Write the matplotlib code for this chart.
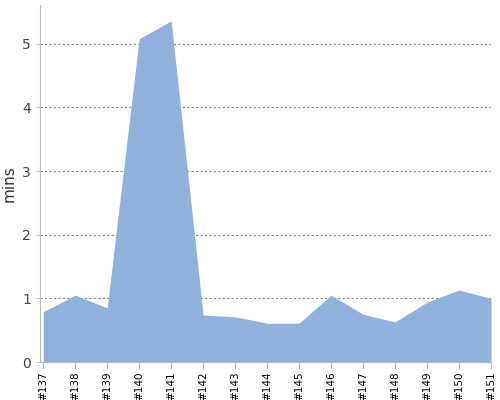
import matplotlib
matplotlib.use("Agg")
import matplotlib.pyplot as plt

builds = ["#137", "#138", "#139", "#140", "#141", "#142", "#143", "#144",
          "#145", "#146", "#147", "#148", "#149", "#150", "#151"]
mins = [0.79, 1.05, 0.85, 5.08, 5.36, 0.74, 0.71, 0.61,
        0.61, 1.05, 0.75, 0.63, 0.94, 1.13, 1.00]

fig = plt.figure(figsize=(5, 4), dpi=100)
ax = fig.add_axes([0.08, 0.095, 0.902, 0.8925])

x = list(range(len(builds)))
ax.fill_between(x, mins, 0, color="#8fb1da", linewidth=0, zorder=2)

ax.set_xlim(-0.1, len(builds) - 1)
ax.set_ylim(0, 5.61)
ax.set_xticks(x)
ax.set_xticklabels(builds, rotation=90, fontsize=7.5)
ax.set_yticks(range(6))
ax.tick_params(axis="y", labelsize=10, labelcolor="#444444", length=3, color="#bbbbbb")
ax.tick_params(axis="x", length=5, color="#bbbbbb", pad=2)

ax.grid(axis="y", linestyle=(0, (2, 2)), color="#888888", linewidth=0.8, zorder=1)
for s in ["top", "right"]:
    ax.spines[s].set_visible(False)
ax.spines["left"].set_color("#bbbbbb")
ax.spines["bottom"].set_color("#bbbbbb")
ax.set_ylabel("mins", fontsize=11, color="#333333")

fig.savefig("out.png")
